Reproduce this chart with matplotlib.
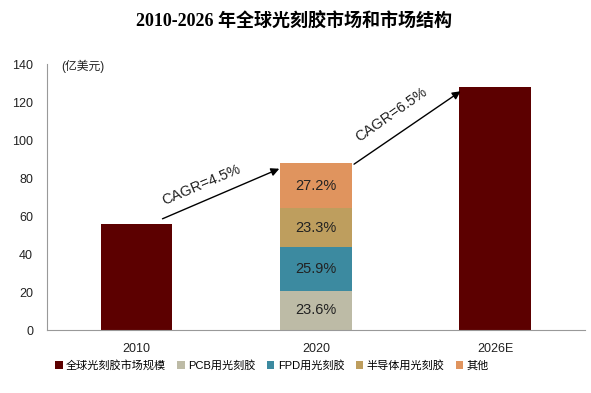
import matplotlib.pyplot as plt
import numpy as np

plt.rcParams['font.family'] = ['Liberation Sans', 'Noto Sans CJK SC']

years = ['2010', '2020', '2026E']
market_size = [56, 0, 127.7]          # 2020 drawn as stacked segments
seg_names = ['PCB用光刻胶', 'FPD用光刻胶', '半导体用光刻胶', '其他']
seg_values = [20.8, 22.8, 20.5, 23.9]   # 2020 breakdown, 亿美元
seg_pcts = ['23.6%', '25.9%', '23.3%', '27.2%']
seg_colors = ['#bdbba6', '#3c8aa0', '#be9e5e', '#e0945e']
cagr_labels = ['CAGR=4.5%', 'CAGR=6.5%']

fig = plt.figure(figsize=(5.91, 3.93), dpi=100)
ax = fig.add_axes([0.0795, 0.16, 0.91, 0.677])

x = np.arange(len(years))
w = 0.4
ax.bar([x[0], x[2]], [market_size[0], market_size[2]], width=w, color='#5c0000',
       label='全球光刻胶市场规模')
bottom = 0
for v, name, c, p in zip(seg_values, seg_names, seg_colors, seg_pcts):
    ax.bar(x[1], v, width=w, bottom=bottom, color=c, label=name)
    ax.text(x[1], bottom + v / 2, p, ha='center', va='center', fontsize=10.5, color='#222222')
    bottom += v

# arrows + CAGR text
ax.annotate('', xy=(0.81, 85.5), xytext=(0.13, 58),
            arrowprops=dict(arrowstyle='-|>', color='black', lw=1, mutation_scale=12))
ax.annotate('', xy=(1.82, 126.5), xytext=(1.2, 86.5),
            arrowprops=dict(arrowstyle='-|>', color='black', lw=1, mutation_scale=12))
ax.text(0.36, 76.5, cagr_labels[0], rotation=23, ha='center', va='center', fontsize=10.5, color='#222222')
ax.text(1.42, 113.5, cagr_labels[1], rotation=35, ha='center', va='center', fontsize=10.5, color='#222222')

ax.text(-0.42, 139, '(亿美元)', ha='left', va='center', fontsize=8.5, color='#222222')

ax.set_xlim(-0.5, 2.5)
ax.set_ylim(0, 140)
ax.set_yticks(range(0, 141, 20))
ax.set_xticks(x)
ax.set_xticklabels(years)
ax.tick_params(axis='both', length=0, labelsize=9, colors='#222222')
ax.tick_params(axis='y', pad=10)
ax.tick_params(axis='x', pad=9)
for s in ['top', 'right']:
    ax.spines[s].set_visible(False)
ax.spines['left'].set_color('#999999')
ax.spines['bottom'].set_color('#999999')

fig.legend(loc='center', bbox_to_anchor=(0.46, 0.071), ncol=5, frameon=False,
           fontsize=8, handlelength=0.7, handleheight=0.7, handletextpad=0.3,
           columnspacing=1.0)

fig.text(0.497, 0.944, '2010-2026 年全球光刻胶市场和市场结构', ha='center', va='center',
         fontsize=13, fontweight='bold', family=['Liberation Serif', 'Noto Sans CJK SC'])

fig.savefig('out.png', dpi=100)
